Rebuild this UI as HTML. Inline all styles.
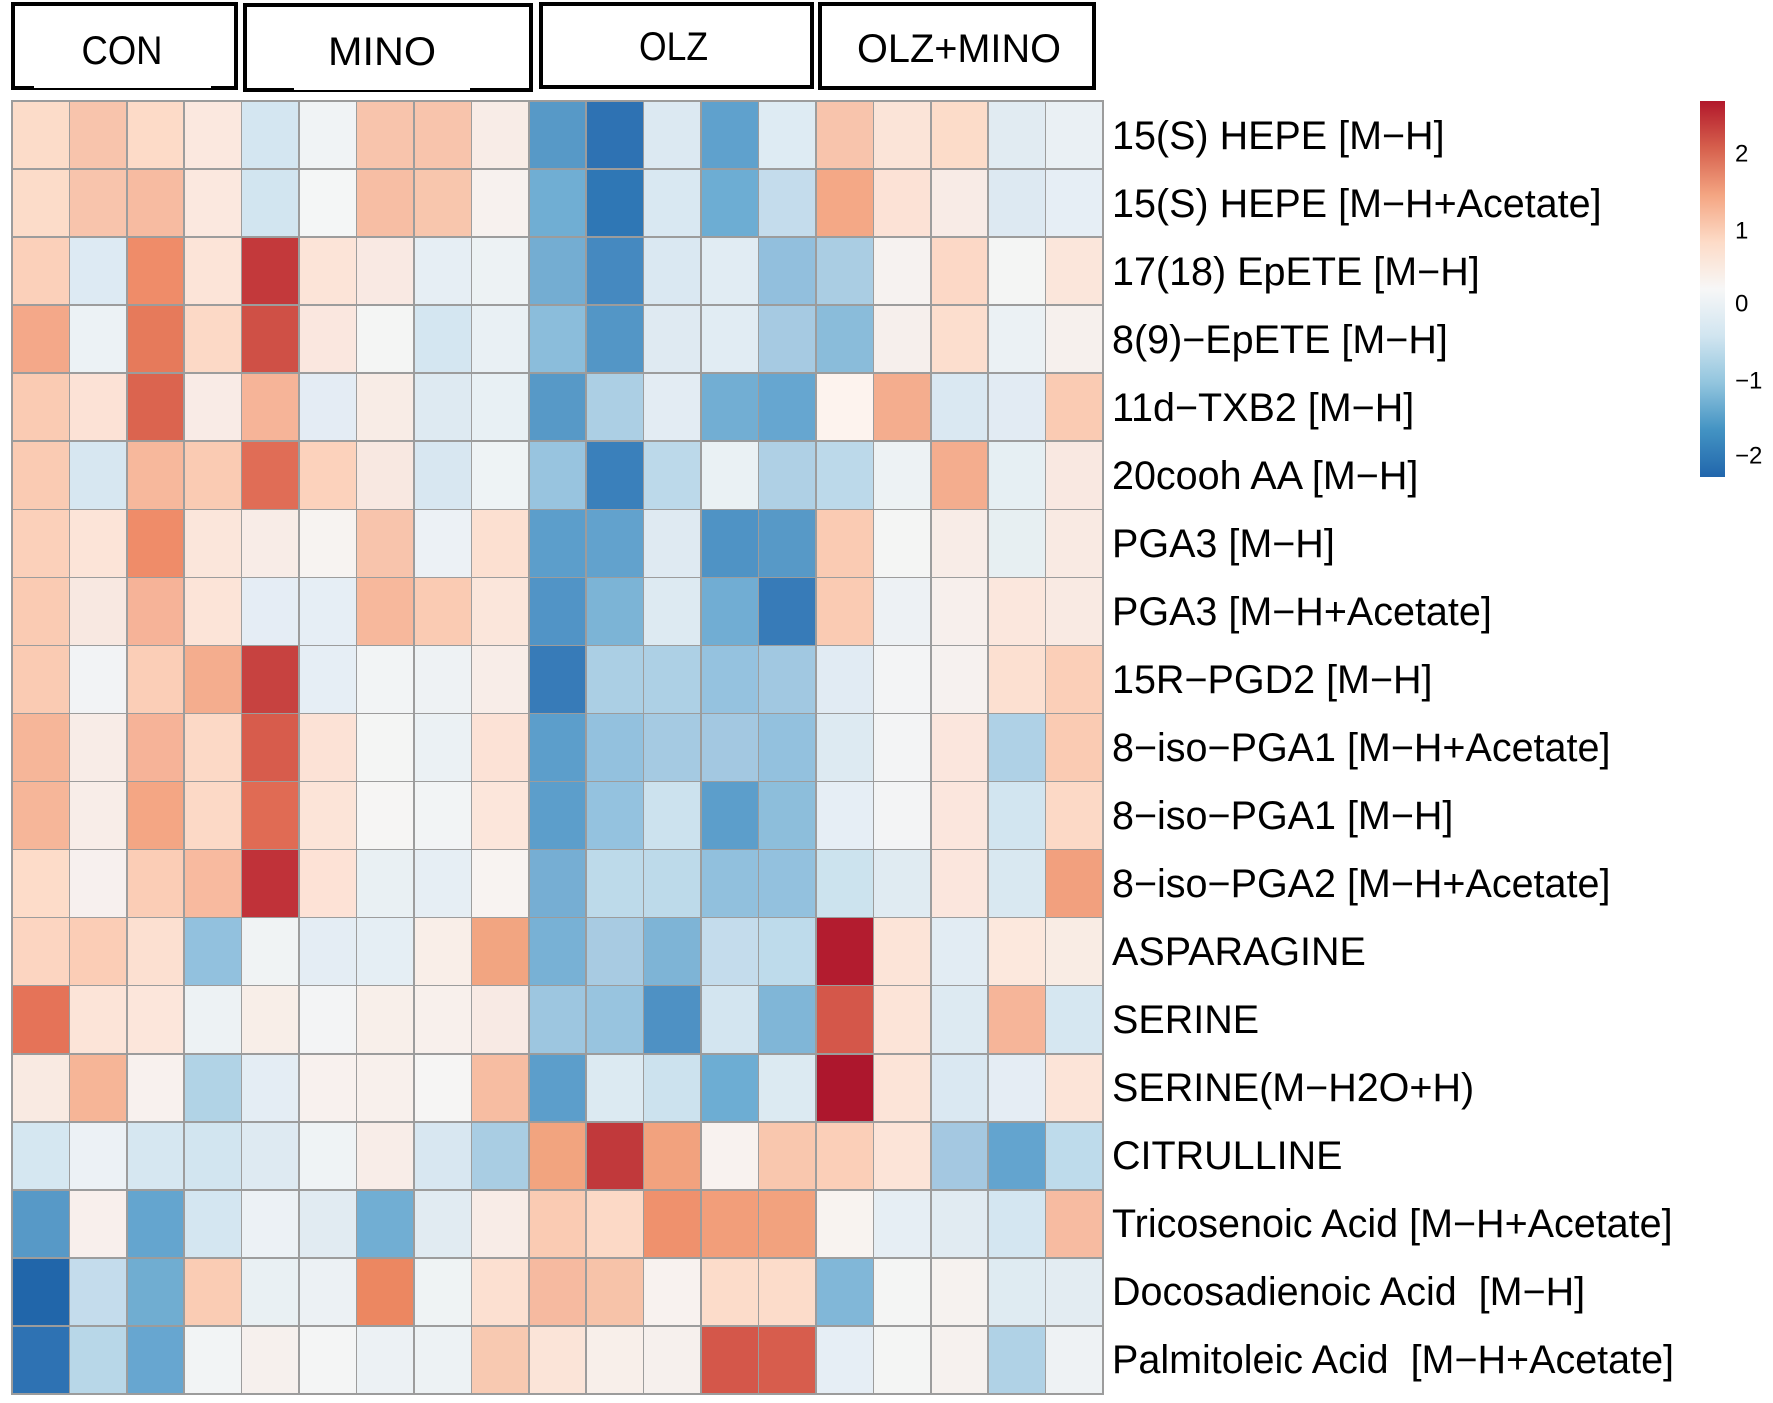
<!DOCTYPE html>
<html>
<head>
<meta charset="utf-8">
<style>
html,body{margin:0;padding:0;background:#fff;}
body{width:1773px;height:1403px;position:relative;overflow:hidden;}
.hm{position:absolute;left:11.2px;top:100.2px;width:1092.6px;height:1294.6px;box-sizing:border-box;padding:1.6px;background:#9c9c9c;display:grid;grid-template-columns:repeat(19,1fr);grid-template-rows:repeat(19,1fr);gap:1.6px;}
.hm i{display:block;}
svg{position:absolute;left:0;top:0;}
.lab{font-family:"Liberation Sans",Arial,sans-serif;font-size:39.5px;fill:#000;}
.hd{font-family:"Liberation Sans",Arial,sans-serif;font-size:40px;fill:#000;}
.tk{font-family:"Liberation Sans",Arial,sans-serif;font-size:24px;fill:#000;}
</style>
</head>
<body>
<div class="hm">
<i style="background:#FCDCC9"></i><i style="background:#F8C4AC"></i><i style="background:#FDDBC8"></i><i style="background:#FBE8DF"></i><i style="background:#D4E6F1"></i><i style="background:#F0F3F5"></i><i style="background:#F8C4AC"></i><i style="background:#F8C4AC"></i><i style="background:#F8ECE7"></i><i style="background:#5799C7"></i><i style="background:#2E72B3"></i><i style="background:#DCE9F2"></i><i style="background:#5FA1CD"></i><i style="background:#DEEBF3"></i><i style="background:#F8C4AC"></i><i style="background:#FBE4D8"></i><i style="background:#FCDCC9"></i><i style="background:#E1EBF2"></i><i style="background:#EAF0F4"></i>
<i style="background:#FCDCC9"></i><i style="background:#F8C4AC"></i><i style="background:#F7BBA1"></i><i style="background:#FBE8DF"></i><i style="background:#D2E5F0"></i><i style="background:#F4F6F6"></i><i style="background:#F7BEA4"></i><i style="background:#F8C6AD"></i><i style="background:#F7F1EE"></i><i style="background:#70AED3"></i><i style="background:#2F77B5"></i><i style="background:#D9E8F2"></i><i style="background:#6DADD3"></i><i style="background:#C4DCEC"></i><i style="background:#F4A886"></i><i style="background:#FCE2D6"></i><i style="background:#F8EBE6"></i><i style="background:#DDE9F2"></i><i style="background:#E6EEF5"></i>
<i style="background:#FBD0BA"></i><i style="background:#DDEAF3"></i><i style="background:#EF8C69"></i><i style="background:#FCE4D8"></i><i style="background:#C3393B"></i><i style="background:#FCE4D8"></i><i style="background:#F9E9E3"></i><i style="background:#E6EEF4"></i><i style="background:#EDF2F4"></i><i style="background:#74ADD2"></i><i style="background:#4589C0"></i><i style="background:#DAE8F2"></i><i style="background:#E1ECF3"></i><i style="background:#92BFDD"></i><i style="background:#AACDE3"></i><i style="background:#F6F2F0"></i><i style="background:#FCD8C6"></i><i style="background:#F4F5F4"></i><i style="background:#FBE6DB"></i>
<i style="background:#F4A889"></i><i style="background:#ECF2F5"></i><i style="background:#E67A5B"></i><i style="background:#FCD9C6"></i><i style="background:#CF5046"></i><i style="background:#FAE7DF"></i><i style="background:#F4F5F4"></i><i style="background:#D4E6F1"></i><i style="background:#E9F0F4"></i><i style="background:#8BBDDB"></i><i style="background:#5396C6"></i><i style="background:#DFEAF2"></i><i style="background:#E1ECF3"></i><i style="background:#A6CAE2"></i><i style="background:#8ABCDA"></i><i style="background:#F6EFEC"></i><i style="background:#FCDECE"></i><i style="background:#EBF1F4"></i><i style="background:#F6F0ED"></i>
<i style="background:#FACBB3"></i><i style="background:#FCE2D6"></i><i style="background:#DB644F"></i><i style="background:#F9EBE6"></i><i style="background:#F6B498"></i><i style="background:#E4ECF4"></i><i style="background:#F8ECE6"></i><i style="background:#DEEAF2"></i><i style="background:#E8F0F4"></i><i style="background:#5799C7"></i><i style="background:#ACCFE4"></i><i style="background:#E3ECF3"></i><i style="background:#72AED3"></i><i style="background:#66A6D0"></i><i style="background:#FDF3EE"></i><i style="background:#F4AD8E"></i><i style="background:#DAE8F2"></i><i style="background:#E2EBF3"></i><i style="background:#FACBB3"></i>
<i style="background:#FACBB3"></i><i style="background:#D7E7F1"></i><i style="background:#F7B89C"></i><i style="background:#FACBB3"></i><i style="background:#E06D56"></i><i style="background:#FCD2BC"></i><i style="background:#F8E8E1"></i><i style="background:#D8E7F1"></i><i style="background:#EEF3F5"></i><i style="background:#98C4DF"></i><i style="background:#3A80BB"></i><i style="background:#BCD9EA"></i><i style="background:#EAF1F4"></i><i style="background:#AFD0E5"></i><i style="background:#BCD9EA"></i><i style="background:#EDF2F4"></i><i style="background:#F4AD8E"></i><i style="background:#E6EFF3"></i><i style="background:#F9E8E1"></i>
<i style="background:#FBD0BA"></i><i style="background:#FCE4D8"></i><i style="background:#EF8C69"></i><i style="background:#FBE6DB"></i><i style="background:#F8ECE7"></i><i style="background:#F7F3F1"></i><i style="background:#F8C4AC"></i><i style="background:#ECF1F5"></i><i style="background:#FCE0D1"></i><i style="background:#5C9ECB"></i><i style="background:#62A2CD"></i><i style="background:#DFEAF2"></i><i style="background:#4F93C5"></i><i style="background:#5799C7"></i><i style="background:#FACBB3"></i><i style="background:#F4F5F4"></i><i style="background:#F8ECE7"></i><i style="background:#E7EFF2"></i><i style="background:#F9EAE3"></i>
<i style="background:#FACBB3"></i><i style="background:#F8E8E1"></i><i style="background:#F6B398"></i><i style="background:#FCE4D8"></i><i style="background:#E5EDF5"></i><i style="background:#E6EEF5"></i><i style="background:#F7B89C"></i><i style="background:#FACBB3"></i><i style="background:#FBE6DB"></i><i style="background:#5194C6"></i><i style="background:#7CB4D6"></i><i style="background:#DDEAF2"></i><i style="background:#71ADD3"></i><i style="background:#377BB8"></i><i style="background:#FACBB3"></i><i style="background:#EDF1F4"></i><i style="background:#F7EFEC"></i><i style="background:#FBE7DD"></i><i style="background:#F9EAE3"></i>
<i style="background:#FACBB3"></i><i style="background:#F2F3F5"></i><i style="background:#FBCEB7"></i><i style="background:#F4AD8E"></i><i style="background:#C74240"></i><i style="background:#E6EEF5"></i><i style="background:#F2F4F5"></i><i style="background:#EEF2F4"></i><i style="background:#F8EDE8"></i><i style="background:#377BB8"></i><i style="background:#ABCFE4"></i><i style="background:#ADD0E5"></i><i style="background:#95C2DF"></i><i style="background:#A1C8E1"></i><i style="background:#E1EBF3"></i><i style="background:#F3F4F5"></i><i style="background:#F6F1EF"></i><i style="background:#FCE0D1"></i><i style="background:#FBCFB8"></i>
<i style="background:#F6B699"></i><i style="background:#F8ECE7"></i><i style="background:#F6B398"></i><i style="background:#FCD9C6"></i><i style="background:#D75C4C"></i><i style="background:#FCE2D6"></i><i style="background:#F4F5F4"></i><i style="background:#EBF1F4"></i><i style="background:#FCE2D6"></i><i style="background:#5C9ECB"></i><i style="background:#93C1DE"></i><i style="background:#A5CAE2"></i><i style="background:#A3C8E1"></i><i style="background:#93C1DE"></i><i style="background:#DDEAF2"></i><i style="background:#F3F4F5"></i><i style="background:#FBE6DD"></i><i style="background:#AFD1E6"></i><i style="background:#FACBB3"></i>
<i style="background:#F6B699"></i><i style="background:#F8EDE8"></i><i style="background:#F4A684"></i><i style="background:#FCD9C6"></i><i style="background:#E06B54"></i><i style="background:#FCE4D8"></i><i style="background:#F6F5F4"></i><i style="background:#F2F4F5"></i><i style="background:#FCE6DB"></i><i style="background:#5C9ECB"></i><i style="background:#94C2DF"></i><i style="background:#CCE2EE"></i><i style="background:#5C9ECB"></i><i style="background:#8DBEDB"></i><i style="background:#E6EEF5"></i><i style="background:#F3F4F5"></i><i style="background:#FBE6DD"></i><i style="background:#D2E5F0"></i><i style="background:#FCD9C6"></i>
<i style="background:#FDDCC9"></i><i style="background:#F7F0EE"></i><i style="background:#FBCDB6"></i><i style="background:#F8BA9F"></i><i style="background:#C03239"></i><i style="background:#FDE2D6"></i><i style="background:#E9F0F3"></i><i style="background:#E6EEF4"></i><i style="background:#F8F3F1"></i><i style="background:#76AED3"></i><i style="background:#BDDAEA"></i><i style="background:#BDDAEA"></i><i style="background:#91C0DD"></i><i style="background:#93C1DE"></i><i style="background:#CCE3EE"></i><i style="background:#E0EBF2"></i><i style="background:#FBE6DD"></i><i style="background:#D9E8F1"></i><i style="background:#F2A07E"></i>
<i style="background:#FCD5C1"></i><i style="background:#FBCDB6"></i><i style="background:#FCE0D1"></i><i style="background:#92C1DE"></i><i style="background:#F0F3F4"></i><i style="background:#E4EDF4"></i><i style="background:#E5EEF4"></i><i style="background:#F9EEE8"></i><i style="background:#F2A581"></i><i style="background:#78B1D5"></i><i style="background:#A8CBE2"></i><i style="background:#7EB4D6"></i><i style="background:#C4DCEC"></i><i style="background:#BEDBEB"></i><i style="background:#B31C2F"></i><i style="background:#FCE4D8"></i><i style="background:#E2ECF3"></i><i style="background:#FCE8DD"></i><i style="background:#F9ECE4"></i>
<i style="background:#E57358"></i><i style="background:#FCE4D8"></i><i style="background:#FCE6DB"></i><i style="background:#EDF2F4"></i><i style="background:#F8EEE8"></i><i style="background:#F3F4F5"></i><i style="background:#F8EFEA"></i><i style="background:#F8F0EC"></i><i style="background:#F8EAE4"></i><i style="background:#9DC6E0"></i><i style="background:#98C4DF"></i><i style="background:#4E91C4"></i><i style="background:#D3E5F0"></i><i style="background:#80B6D7"></i><i style="background:#D4574A"></i><i style="background:#FCE4D8"></i><i style="background:#DDEAF2"></i><i style="background:#F6B599"></i><i style="background:#D6E7F1"></i>
<i style="background:#F9EAE2"></i><i style="background:#F6B597"></i><i style="background:#F8F1EE"></i><i style="background:#B1D3E6"></i><i style="background:#E4EDF4"></i><i style="background:#F8F1EE"></i><i style="background:#F8F0EC"></i><i style="background:#F6F5F4"></i><i style="background:#F7BDA2"></i><i style="background:#5C9ECB"></i><i style="background:#DCEAF2"></i><i style="background:#CCE2EE"></i><i style="background:#6DADD3"></i><i style="background:#DCEAF2"></i><i style="background:#AD172D"></i><i style="background:#FCE4D8"></i><i style="background:#DAE8F2"></i><i style="background:#E5EDF4"></i><i style="background:#FCE4D8"></i>
<i style="background:#D5E7F1"></i><i style="background:#ECF1F5"></i><i style="background:#D6E7F1"></i><i style="background:#D2E5F0"></i><i style="background:#DEEAF2"></i><i style="background:#EFF3F5"></i><i style="background:#F8EDE8"></i><i style="background:#D8E7F1"></i><i style="background:#A9CDE3"></i><i style="background:#F2A47F"></i><i style="background:#C1393B"></i><i style="background:#F2A27E"></i><i style="background:#F8F2EF"></i><i style="background:#F9C7AE"></i><i style="background:#FBCFB8"></i><i style="background:#FCE4D8"></i><i style="background:#A4C8E1"></i><i style="background:#63A4CF"></i><i style="background:#BEDBEB"></i>
<i style="background:#5799C7"></i><i style="background:#F8EFEC"></i><i style="background:#64A5CF"></i><i style="background:#D4E6F1"></i><i style="background:#ECF1F5"></i><i style="background:#E1EBF2"></i><i style="background:#71AED3"></i><i style="background:#E1EBF2"></i><i style="background:#F8ECE7"></i><i style="background:#FACBB3"></i><i style="background:#FCD9C6"></i><i style="background:#EF916D"></i><i style="background:#F29E7A"></i><i style="background:#F2A27E"></i><i style="background:#F8F3F0"></i><i style="background:#E6EEF4"></i><i style="background:#E1EBF2"></i><i style="background:#D4E6F1"></i><i style="background:#F7BBA1"></i>
<i style="background:#2166AA"></i><i style="background:#C4DCEC"></i><i style="background:#70ADD1"></i><i style="background:#FACCB4"></i><i style="background:#E9F0F3"></i><i style="background:#ECF1F4"></i><i style="background:#EC8761"></i><i style="background:#EFF3F4"></i><i style="background:#FCE0D1"></i><i style="background:#F6BAA0"></i><i style="background:#F7C3A9"></i><i style="background:#F8F2EF"></i><i style="background:#FCDCCA"></i><i style="background:#FCDCCA"></i><i style="background:#81B7D8"></i><i style="background:#F4F5F4"></i><i style="background:#F6F2EF"></i><i style="background:#DFEBF2"></i><i style="background:#E3ECF2"></i>
<i style="background:#2E72B3"></i><i style="background:#B8D7E8"></i><i style="background:#67A6D0"></i><i style="background:#F2F4F5"></i><i style="background:#F6F0ED"></i><i style="background:#F4F5F5"></i><i style="background:#ECF1F4"></i><i style="background:#EDF2F4"></i><i style="background:#F8C9B1"></i><i style="background:#FBE4D8"></i><i style="background:#F8EFEA"></i><i style="background:#F6F0ED"></i><i style="background:#D4574A"></i><i style="background:#D75D4D"></i><i style="background:#E6EEF5"></i><i style="background:#F4F5F4"></i><i style="background:#F6F1EE"></i><i style="background:#B0D2E6"></i><i style="background:#EEF2F4"></i>
</div>
<svg width="1773" height="1403" viewBox="0 0 1773 1403" xmlns="http://www.w3.org/2000/svg">
<defs>
<linearGradient id="cb" x1="0" y1="0" x2="0" y2="1">
<stop offset="0" stop-color="#B2182B"/>
<stop offset="0.125" stop-color="#D6604D"/>
<stop offset="0.25" stop-color="#F4A582"/>
<stop offset="0.375" stop-color="#FDDBC7"/>
<stop offset="0.5" stop-color="#F7F7F7"/>
<stop offset="0.625" stop-color="#D1E5F0"/>
<stop offset="0.75" stop-color="#92C5DE"/>
<stop offset="0.875" stop-color="#4393C3"/>
<stop offset="1" stop-color="#2166AC"/>
</linearGradient>
</defs>
<g fill="none" stroke="#000" stroke-width="4">
<path d="M34,88 L13,88 L13,4 L236,4 L236,88 L211,88"/>
<line x1="34" y1="89" x2="211" y2="89" stroke-width="2"/>
<path d="M294,90 L245,90 L245,5 L531,5 L531,90 L470,90"/>
<line x1="294" y1="91" x2="470" y2="91" stroke-width="2"/>
<rect x="541" y="4" width="271" height="83"/>
<rect x="820" y="4" width="274" height="84"/>
</g>
<text class="hd" x="81.5" y="64" textLength="81" lengthAdjust="spacingAndGlyphs">CON</text>
<text class="hd" x="328" y="65" textLength="108" lengthAdjust="spacingAndGlyphs">MINO</text>
<text class="hd" x="639" y="60" textLength="69" lengthAdjust="spacingAndGlyphs">OLZ</text>
<text class="hd" x="857" y="62" textLength="204" lengthAdjust="spacingAndGlyphs">OLZ+MINO</text>
<g class="lab">
<text x="1112" y="149">15(S) HEPE [M&#8722;H]</text>
<text x="1112" y="217">15(S) HEPE [M&#8722;H+Acetate]</text>
<text x="1112" y="285">17(18) EpETE [M&#8722;H]</text>
<text x="1112" y="353">8(9)&#8722;EpETE [M&#8722;H]</text>
<text x="1112" y="421">11d&#8722;TXB2 [M&#8722;H]</text>
<text x="1112" y="489">20cooh AA [M&#8722;H]</text>
<text x="1112" y="557">PGA3 [M&#8722;H]</text>
<text x="1112" y="625">PGA3 [M&#8722;H+Acetate]</text>
<text x="1112" y="693">15R&#8722;PGD2 [M&#8722;H]</text>
<text x="1112" y="761">8&#8722;iso&#8722;PGA1 [M&#8722;H+Acetate]</text>
<text x="1112" y="829">8&#8722;iso&#8722;PGA1 [M&#8722;H]</text>
<text x="1112" y="897">8&#8722;iso&#8722;PGA2 [M&#8722;H+Acetate]</text>
<text x="1112" y="965">ASPARAGINE</text>
<text x="1112" y="1033">SERINE</text>
<text x="1112" y="1101">SERINE(M&#8722;H2O+H)</text>
<text x="1112" y="1169">CITRULLINE</text>
<text x="1112" y="1237">Tricosenoic Acid [M&#8722;H+Acetate]</text>
<text x="1112" y="1305" xml:space="preserve">Docosadienoic Acid  [M&#8722;H]</text>
<text x="1112" y="1373" xml:space="preserve">Palmitoleic Acid  [M&#8722;H+Acetate]</text>
</g>
<rect x="1700" y="101" width="25" height="376" fill="url(#cb)"/>
<g class="tk">
<text x="1735" y="161.5">2</text>
<text x="1735" y="238.5">1</text>
<text x="1735" y="311.5">0</text>
<text x="1735" y="388.5">&#8722;1</text>
<text x="1735" y="463.5">&#8722;2</text>
</g>
</svg>
</body>
</html>
